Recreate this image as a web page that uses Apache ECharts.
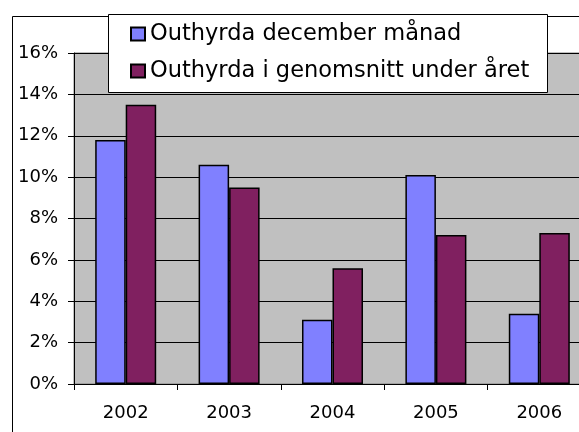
<!DOCTYPE html>
<html>
<head>
<meta charset="utf-8">
<script src="https://cdn.jsdelivr.net/npm/echarts@6/dist/echarts.min.js"></script>
<style>
  html, body { margin: 0; padding: 0; background: #fff; }
  #chart { width: 579px; height: 432px; }
</style>
</head>
<body>
<div id="chart"></div>
<script>
// values (percent)
const years = ["2002", "2003", "2004", "2005", "2006"];
const decemberValues = [11.8, 10.6, 3.1, 10.1, 3.4];
const averageValues = [13.5, 9.5, 5.6, 7.2, 7.3];
const seriesNames = ["Outhyrda december månad", "Outhyrda i genomsnitt under året"];

const font = "DejaVu Sans";

const chart = echarts.init(document.getElementById("chart"));

const option = {
  animation: false,
  backgroundColor: "#fff",
  textStyle: { fontFamily: font, color: "#000" },
  grid: {
    left: 74,
    top: 53,
    width: 517,
    height: 331,
    outerBoundsMode: "none",
    show: true,
    backgroundColor: "#C0C0C0",
    borderColor: "#808080",
    borderWidth: 1,
  },
  // outer chart frame + legend box
  graphic: [
    {
      type: "rect",
      left: 10,
      top: 14,
      z: 0,
      shape: { width: 700, height: 500 },
      style: { fill: "none", stroke: "#000", lineWidth: 1 },
    },
    {
      type: "rect",
      left: 108,
      top: 14,
      z: 3,
      shape: { width: 439, height: 78 },
      style: { fill: "#fff", stroke: "#000", lineWidth: 1 },
    },
  ],
  legend: {
    left: 108,
    top: 14,
    orient: "vertical",
    padding: [8, 17, 10, 22],
    itemWidth: 14,
    itemHeight: 13,
    itemGap: 13,
    icon: "rect",
    z: 5,
    textStyle: { fontFamily: font, fontSize: 22.5, lineHeight: 24, color: "#000" },
    data: seriesNames,
  },
  xAxis: {
    type: "category",
    data: years,
    axisLine: { lineStyle: { color: "#000", width: 1 } },
    axisTick: { show: true, length: 6, lineStyle: { color: "#000" } },
    axisLabel: { fontFamily: font, fontSize: 18, color: "#000", margin: 20 },
  },
  yAxis: {
    type: "value",
    min: 0,
    max: 16,
    interval: 2,
    axisLine: { show: true, lineStyle: { color: "#000", width: 1 } },
    axisTick: { show: true, length: 6, lineStyle: { color: "#000" } },
    axisLabel: {
      fontFamily: font,
      fontSize: 18,
      color: "#000",
      margin: 16,
      formatter: "{value}%",
    },
    splitLine: { show: true, lineStyle: { color: "#000", width: 1 } },
  },
  series: [
    {
      name: seriesNames[0],
      type: "bar",
      data: decemberValues,
      barWidth: "29.5%",
      barGap: "0%",
      itemStyle: { color: "#8080FF", borderColor: "#000", borderWidth: 1.5 },
    },
    {
      name: seriesNames[1],
      type: "bar",
      data: averageValues,
      barWidth: "29.5%",
      barGap: "0%",
      itemStyle: { color: "#802060", borderColor: "#000", borderWidth: 1.5 },
    },
  ],
};

chart.setOption(option);
</script>
</body>
</html>
